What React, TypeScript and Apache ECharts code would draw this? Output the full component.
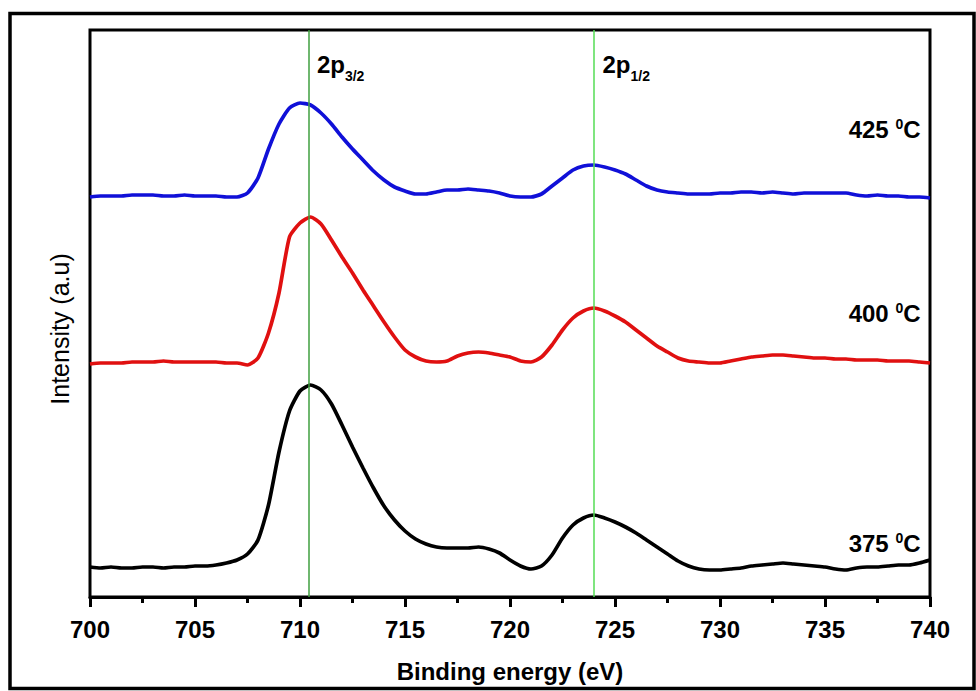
import React, { useEffect, useRef } from "react";
import * as echarts from "echarts";

const FONT = 'Arial, "Liberation Sans", Helvetica, sans-serif';

// Binding energy grid (eV)
const energy = [
  700, 700.5, 701, 701.5, 702, 702.5, 703, 703.5, 704, 704.5,
  705, 705.5, 706, 706.5, 707, 707.5, 708, 708.5, 709, 709.5,
  710, 710.5, 711, 711.5, 712, 712.5, 713, 713.5, 714, 714.5,
  715, 715.5, 716, 716.5, 717, 717.5, 718, 718.5, 719, 719.5,
  720, 720.5, 721, 721.5, 722, 722.5, 723, 723.5, 724, 724.5,
  725, 725.5, 726, 726.5, 727, 727.5, 728, 728.5, 729, 729.5,
  730, 730.5, 731, 731.5, 732, 732.5, 733, 733.5, 734, 734.5,
  735, 735.5, 736, 736.5, 737, 737.5, 738, 738.5, 739, 739.5,
  740,
];

// Stacked Fe 2p spectra (a.u., offset for clarity)
const intensity375 = [
  30, 29, 30, 29, 29, 30, 30, 29, 30, 30,
  31, 31, 32, 34, 37, 43, 57, 92, 145, 186,
  206, 212, 207, 193, 172, 150, 129, 109, 91, 77,
  66, 58, 53, 50, 49, 49, 49, 50, 48, 44,
  37, 31, 28, 31, 42, 59, 72, 79, 82, 79,
  75, 70, 64, 57, 50, 43, 36, 31, 28, 27,
  27, 28, 29, 31, 32, 33, 34, 33, 32, 31,
  30, 28, 27, 29, 30, 30, 31, 32, 32, 34,
  37,
];

const intensity400 = [
  233, 234, 234, 234, 235, 235, 235, 236, 235, 235,
  235, 235, 235, 234, 234, 232, 239, 264, 304, 360,
  374, 380, 373, 357, 340, 324, 307, 291, 275, 260,
  247, 240, 236, 235, 236, 241, 244, 245, 244, 242,
  240, 236, 235, 240, 252, 267, 279, 286, 289, 286,
  281, 275, 267, 259, 251, 245, 239, 236, 235, 234,
  234, 236, 238, 240, 241, 242, 242, 241, 240, 239,
  239, 238, 238, 237, 237, 237, 236, 236, 236, 235,
  234,
];

const intensity425 = [
  400, 401, 401, 401, 402, 402, 402, 401, 401, 402,
  401, 401, 401, 400, 400, 404, 419, 448, 473, 489,
  494, 492, 484, 473, 460, 448, 437, 426, 417, 410,
  406, 403, 403, 405, 407, 407, 408, 407, 406, 404,
  401, 400, 400, 403, 411, 419, 427, 431, 432, 430,
  427, 423, 417, 411, 407, 405, 404, 403, 403, 403,
  404, 404, 405, 405, 404, 405, 404, 403, 404, 404,
  404, 404, 404, 402, 401, 402, 401, 401, 400, 400,
  399,
];

// Curve annotations
const tempNames = ["425", "400", "375"];
const tempLevels = [467.5, 283.5, 53.5];
const peakEnergies = [710.4, 724.0];
const peakSubs = ["3/2", "1/2"];
const peakLineColors = ["#3f9f3f", "#55dd55"];
const peakLabelLevel = 533;

const toPairs = (xs: number[], ys: number[]) => xs.map((x, i) => [x, ys[i]]);

function curve(data: number[], color: string) {
  return {
    type: "line",
    data: toPairs(energy, data),
    showSymbol: false,
    symbol: "none",
    smooth: 0.2,
    lineStyle: { color, width: 3.7 },
    z: 3,
  };
}

const labelItem = { color: "rgba(0,0,0,0)", opacity: 1 };

export default function App() {
  const ref = useRef<HTMLDivElement>(null);

  useEffect(() => {
    if (!ref.current) return;
    const chart = echarts.init(ref.current, undefined, { renderer: "svg" });

    const option = {
      animation: false,
      backgroundColor: "#ffffff",
      textStyle: { fontFamily: FONT },
      grid: {
        left: 90,
        right: 46,
        top: 30,
        bottom: 94,
        show: true,
        borderColor: "#000",
        borderWidth: 3,
        backgroundColor: "transparent",
      },
      xAxis: {
        type: "value",
        min: 700,
        max: 740,
        interval: 5,
        name: "Binding energy (eV)",
        nameLocation: "middle",
        nameGap: 62,
        nameTextStyle: { fontSize: 24, fontWeight: "bold", color: "#000", fontFamily: FONT },
        axisLine: { show: true, onZero: false, lineStyle: { color: "#000", width: 3 } },
        axisTick: { show: true, inside: false, length: 10, lineStyle: { color: "#000", width: 3 } },
        minorTick: { show: true, splitNumber: 2, length: 6, lineStyle: { color: "#000", width: 3 } },
        axisLabel: {
          fontSize: 24,
          fontWeight: "bold",
          color: "#000",
          margin: 20,
          fontFamily: FONT,
          showMinLabel: true,
          showMaxLabel: true,
        },
        splitLine: { show: false },
        minorSplitLine: { show: false },
      },
      yAxis: {
        type: "value",
        min: 0,
        max: 567,
        axisLine: { show: false },
        axisTick: { show: false },
        axisLabel: { show: false },
        splitLine: { show: false },
      },
      graphic: [
        {
          type: "rect",
          shape: { x: 10, y: 13.5, width: 964, height: 675 },
          style: { fill: "none", stroke: "#000", lineWidth: 3.5 },
          silent: true,
          z: 0,
        },
        {
          type: "text",
          x: 60,
          y: 329,
          rotation: Math.PI / 2,
          style: {
            text: "Intensity (a.u)",
            fontSize: 25,
            fontFamily: FONT,
            fill: "#000",
            align: "center",
            verticalAlign: "middle",
          },
          silent: true,
        },
      ],
      series: [
        curve(intensity425, "#1010d8"),
        curve(intensity400, "#e01010"),
        curve(intensity375, "#000000"),
        {
          type: "line",
          data: [],
          z: 6,
          silent: true,
          markLine: {
            silent: true,
            symbol: "none",
            label: { show: false },
            data: peakEnergies.map((e, i) => ({
              xAxis: e,
              lineStyle: { color: peakLineColors[i], width: 1.5, type: "solid" },
            })),
          },
        },
        {
          type: "scatter",
          symbolSize: 1,
          itemStyle: labelItem,
          silent: true,
          z: 7,
          data: peakEnergies.map((e, i) => ({ value: [e, peakLabelLevel], name: peakSubs[i] })),
          label: {
            show: true,
            position: "right",
            distance: 8,
            formatter: (p: any) => `{a|2p}{s|${p.name}}`,
            rich: {
              a: { fontSize: 24, fontWeight: "bold", color: "#000", fontFamily: FONT, lineHeight: 38 },
              s: {
                fontSize: 14,
                fontWeight: "bold",
                color: "#000",
                fontFamily: FONT,
                lineHeight: 14,
                verticalAlign: "bottom",
              },
            },
          },
        },
        {
          type: "scatter",
          symbolSize: 1,
          itemStyle: labelItem,
          silent: true,
          z: 7,
          data: tempNames.map((t, i) => ({ value: [740, tempLevels[i]], name: t })),
          label: {
            show: true,
            position: "left",
            distance: 9,
            formatter: (p: any) => `{a|${p.name} }{s|0}{a|C}`,
            rich: {
              a: { fontSize: 24, fontWeight: "bold", color: "#000", fontFamily: FONT, lineHeight: 25 },
              s: {
                fontSize: 14,
                fontWeight: "bold",
                color: "#000",
                fontFamily: FONT,
                lineHeight: 14,
                verticalAlign: "top",
              },
            },
          },
        },
      ],
    };

    chart.setOption(option as any);
    return () => chart.dispose();
  }, []);

  return (
    <div
      ref={ref}
      style={{ position: "absolute", left: 0, top: 0, width: 976, height: 691, background: "#fff" }}
    />
  );
}
